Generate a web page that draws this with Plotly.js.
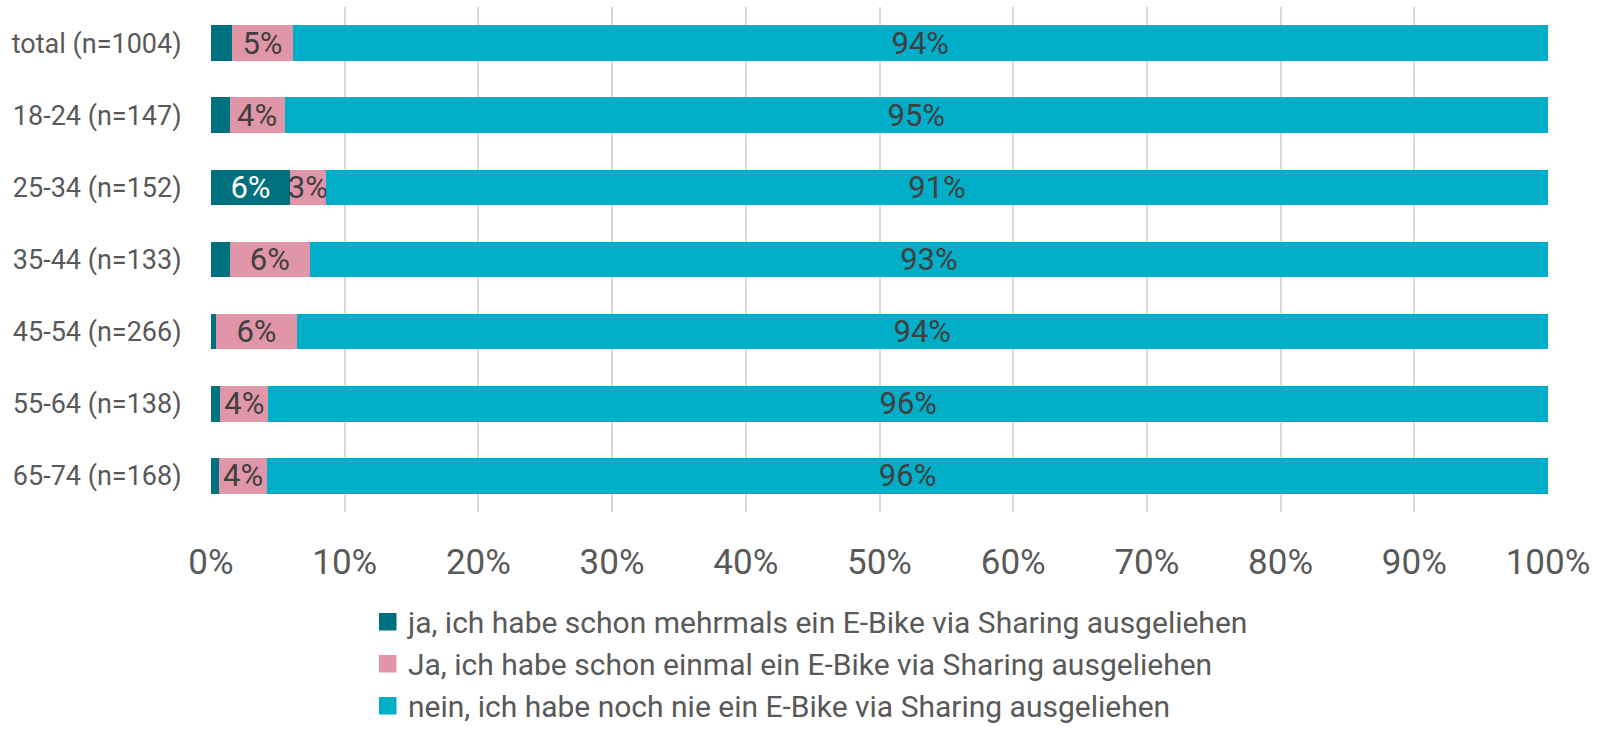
<!DOCTYPE html>
<html>
<head>
<meta charset="utf-8">
<script src="https://cdn.plot.ly/plotly-3.0.1.min.js"></script>
<style>
  html, body { margin: 0; padding: 0; background: #ffffff; }
  #chart { width: 1607px; height: 730px; }
</style>
</head>
<body>
<div id="chart"></div>
<script>
// ---- data (percent) ----
const categories = ["total (n=1004)", "18-24 (n=147)", "25-34 (n=152)", "35-44 (n=133)", "45-54 (n=266)", "55-64 (n=138)", "65-74 (n=168)"];
const seriesNames = [
  "ja, ich habe schon mehrmals ein E-Bike via Sharing ausgeliehen",
  "Ja, ich habe schon einmal ein E-Bike via Sharing ausgeliehen",
  "nein, ich habe noch nie ein E-Bike via Sharing ausgeliehen"
];
const mehrmals = [1.6, 1.4, 5.9, 1.4, 0.4, 0.7, 0.6];
const einmal   = [4.5, 4.1, 2.7, 6.0, 6.0, 3.6, 3.6];
const nie      = [93.9, 94.5, 91.4, 92.6, 93.6, 95.7, 95.8];
const tickVals = [0, 10, 20, 30, 40, 50, 60, 70, 80, 90, 100];
const tickLabels = ["0%", "10%", "20%", "30%", "40%", "50%", "60%", "70%", "80%", "90%", "100%"];
const colors = ["#00707f", "#e096a8", "#00aec7"];
const labelColors = ["#ffffff", "#404040", "#404040"];

function labels(vals) {
  return vals.map(v => v >= 2.5 ? Math.round(v) + "%" : "");
}

const seriesValues = [mehrmals, einmal, nie];
const traces = seriesValues.map((vals, i) => ({
  type: "bar",
  orientation: "h",
  name: seriesNames[i],
  legendgroup: "g" + i,
  x: vals,
  y: categories,
  marker: { color: colors[i], line: { width: 0 } },
  text: labels(vals),
  textposition: "inside",
  insidetextanchor: "middle",
  textangle: 0,
  constraintext: "none",
  cliponaxis: false,
  textfont: { family: "Roboto, sans-serif", size: 31, color: labelColors[i] },
  hoverinfo: "x+y+name"
}));

const layout = {
  width: 1607,
  height: 730,
  paper_bgcolor: "#ffffff",
  plot_bgcolor: "#ffffff",
  font: { family: "Roboto, sans-serif", color: "#595959" },
  barmode: "stack",
  bargap: 0.506,
  margin: { l: 211, r: 59, t: 7, b: 218, pad: 0, autoexpand: false },
  showlegend: true,
  legend: {
    orientation: "v",
    traceorder: "grouped",
    tracegroupgap: 0,
    xref: "container",
    yref: "container",
    x: 0.229,
    xanchor: "left",
    y: 0.184,
    yanchor: "top",
    font: { family: "Roboto, sans-serif", size: 30, color: "#595959" },
    bgcolor: "rgba(0,0,0,0)",
    borderwidth: 0
  },
  xaxis: {
    range: [0, 100],
    tickmode: "array",
    tickvals: tickVals,
    ticktext: tickLabels,
    showgrid: true,
    gridcolor: "#d9d9d9",
    gridwidth: 1.5,
    zeroline: false,
    showline: false,
    ticks: "outside",
    ticklen: 19,
    tickcolor: "rgba(0,0,0,0)",
    tickfont: { family: "Roboto, sans-serif", size: 35, color: "#595959" },
    fixedrange: true
  },
  yaxis: {
    type: "category",
    autorange: "reversed",
    showgrid: false,
    zeroline: false,
    showline: false,
    ticks: "outside",
    ticklen: 23,
    tickcolor: "rgba(0,0,0,0)",
    tickfont: { family: "Roboto, sans-serif", size: 27, color: "#595959" },
    fixedrange: true
  }
};

Plotly.newPlot("chart", traces, layout, { displayModeBar: false, responsive: false }).then(gd => {
  // larger square swatches placed close to the legend text, as in the reference
  document.querySelectorAll("#chart .legendpoints path").forEach(p => {
    p.removeAttribute("transform");
    p.setAttribute("d", "M11,8.75H28.5V-8.75H11Z");
  });
});
</script>
</body>
</html>
